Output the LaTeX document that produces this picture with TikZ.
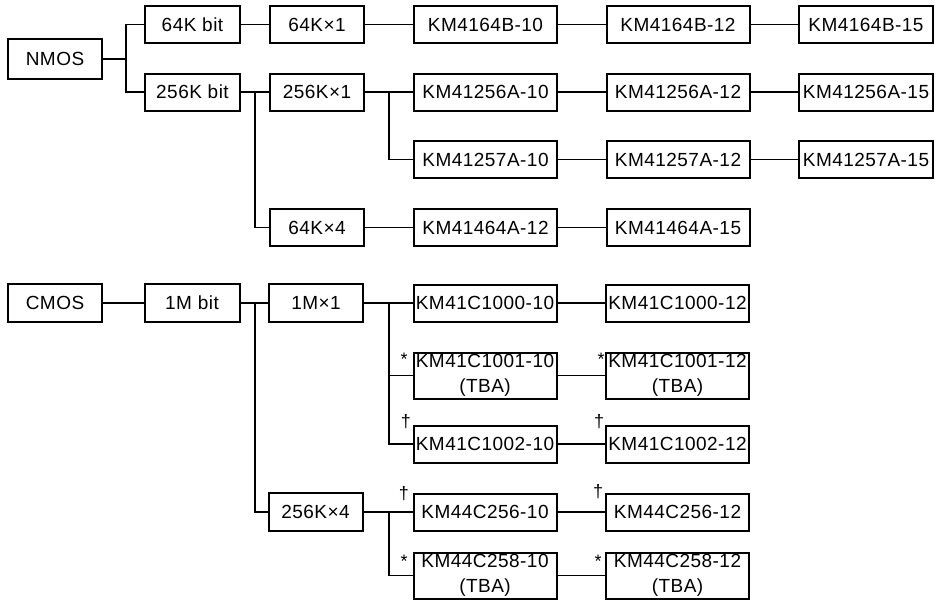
\documentclass[tikz,border=0pt]{standalone}
\usepackage{fontspec}
\newfontfamily\boxfont{Liberation Sans}[LetterSpace=2.5]
\newfontfamily\notefont{Liberation Sans}
\tikzset{
  chip/.style={draw, line width=2pt, inner sep=0pt, minimum height=37pt, align=center,
    font=\boxfont\fontsize{19}{25}\selectfont},
  wA/.style={chip, minimum width=94pt},
  wB/.style={chip, minimum width=95pt},
  wC/.style={chip, minimum width=94pt},
  wD/.style={chip, minimum width=143pt},
  wE/.style={chip, minimum width=143pt},
  wF/.style={chip, minimum width=134pt},
  tba/.style={minimum height=46pt},
  link/.style={line width=1.3pt},
  note/.style={font=\notefont\fontsize{18}{18}\selectfont, inner sep=0pt}
}
\begin{document}
\begin{tikzpicture}[x=1pt,y=-1pt]
\useasboundingbox (0,0) rectangle (940,600);
% NMOS part
\node[wA, minimum height=40pt] (nmos) at (55,59) {NMOS};
\node[wB] (b64) at (192.5,24.5) {64K bit};
\node[wB] (b256) at (192.5,92) {256K bit};
\node[wC] (o64x1) at (317,24.5) {64K×1};
\node[wC] (o256x1) at (317,92) {256K×1};
\node[wC] (o64x4) at (317,227.5) {64K×4};
\node[wD] (a10) at (485.5,24.5) {KM4164B-10};
\node[wE] (a12) at (678,24.5) {KM4164B-12};
\node[wF] (a15) at (866,24.5) {KM4164B-15};
\node[wD] (b10) at (485.5,92) {KM41256A-10};
\node[wE] (b12) at (678,92) {KM41256A-12};
\node[wF] (b15) at (866,92) {KM41256A-15};
\node[wD] (c10) at (485.5,159.5) {KM41257A-10};
\node[wE] (c12) at (678,159.5) {KM41257A-12};
\node[wF] (c15) at (866,159.5) {KM41257A-15};
\node[wD] (d12) at (485.5,227.5) {KM41464A-12};
\node[wE] (d15) at (678,227.5) {KM41464A-15};
% CMOS part
\node[wA, minimum height=38pt] (cmos) at (55,303) {CMOS};
\node[wB, minimum height=38pt] (m1) at (192,303) {1M bit};
\node[wC, minimum height=38pt] (o1mx1) at (316,303) {1M×1};
\node[wC, minimum height=38pt] (o256x4) at (315.5,512) {256K×4};
\node[wD] (e10) at (485,303) {KM41C1000-10};
\node[wE] (e12) at (677.5,303) {KM41C1000-12};
\node[wD, tba] (f10) at (485,375.5) {KM41C1001-10\\(TBA)};
\node[wE, tba] (f12) at (677.5,375.5) {KM41C1001-12\\(TBA)};
\node[wD] (g10) at (485,444) {KM41C1002-10};
\node[wE] (g12) at (677.5,444) {KM41C1002-12};
\node[wD] (h10) at (485,512) {KM44C256-10};
\node[wE] (h12) at (677.5,512) {KM44C256-12};
\node[wD, tba] (i10) at (485,575.5) {KM44C258-10\\(TBA)};
\node[wE, tba] (i12) at (677.5,575.5) {KM44C258-12\\(TBA)};
% notes
\node[note] (n1) at (404,359) {*};
\node[note] (n2) at (601,359) {*};
\node[note] (n3) at (406,422) {†};
\node[note] (n4) at (599,422) {†};
\node[note] (n5) at (404,494) {†};
\node[note] (n6) at (598,492) {†};
\node[note] (n7) at (404,561) {*};
\node[note] (n8) at (598,561) {*};
% junctions
\coordinate (jN) at (126,59);
\coordinate (j256) at (255,92);
\coordinate (j256x1) at (389,92);
\coordinate (j1M) at (255,303);
\coordinate (j1Mx1) at (389,303);
\coordinate (j256x4) at (389,512);
\begin{scope}[link]
\draw (nmos.east) -- (jN);
\draw (jN) |- (b64.west);
\draw (jN) |- (b256.west);
\draw (b64.east) -- (o64x1.west);
\draw (b256.east) -- (o256x1.west);
\draw (j256) |- (o64x4.west);
\draw (o64x1.east) -- (a10.west);
\draw (a10.east) -- (a12.west);
\draw (a12.east) -- (a15.west);
\draw (o256x1.east) -- (b10.west);
\draw (j256x1) |- (c10.west);
\draw (b10.east) -- (b12.west);
\draw (b12.east) -- (b15.west);
\draw (c10.east) -- (c12.west);
\draw (c12.east) -- (c15.west);
\draw (o64x4.east) -- (d12.west);
\draw (d12.east) -- (d15.west);
\draw (cmos.east) -- (m1.west);
\draw (m1.east) -- (o1mx1.west);
\draw (j1M) |- (o256x4.west);
\draw (o1mx1.east) -- (e10.west);
\draw (j1Mx1) |- (f10.west);
\draw (j1Mx1) |- (g10.west);
\draw (e10.east) -- (e12.west);
\draw (f10.east) -- (f12.west);
\draw (g10.east) -- (g12.west);
\draw (o256x4.east) -- (h10.west);
\draw (j256x4) |- (i10.west);
\draw (h10.east) -- (h12.west);
\draw (i10.east) -- (i12.west);
\end{scope}
\end{tikzpicture}
\end{document}
